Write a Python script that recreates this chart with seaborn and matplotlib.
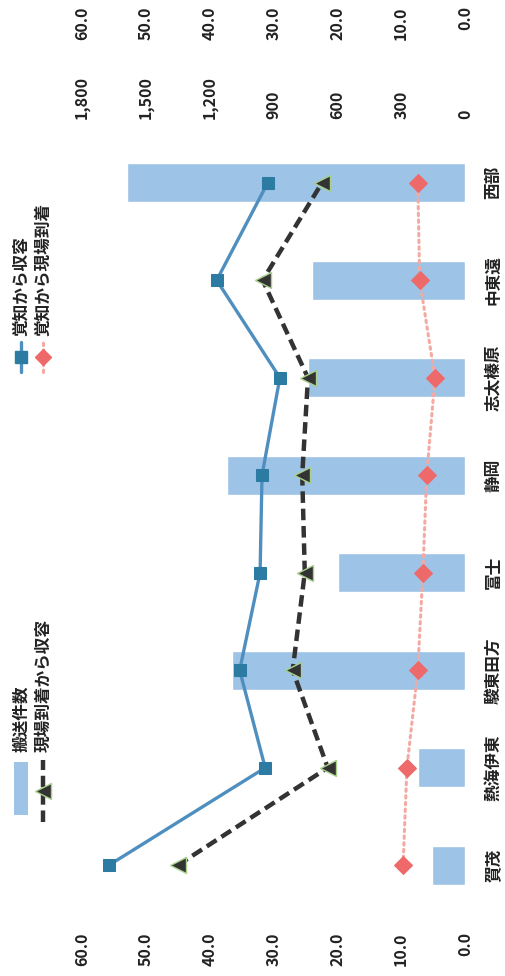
import numpy as np
import pandas as pd
import matplotlib
matplotlib.use("Agg")
import matplotlib.pyplot as plt
import seaborn as sns
from matplotlib.lines import Line2D
from matplotlib.patches import Rectangle

# ---------------- data ----------------
categories = ['賀茂', '熱海伊東', '駿東田方', '富士', '静岡', '志太榛原', '中東遠', '西部']
transport_counts = [155, 221, 1095, 597, 1118, 738, 719, 1588]          # 搬送件数
kakuchi_shuyo = [55.8, 31.3, 35.3, 32.1, 31.8, 29.0, 38.9, 30.9]        # 覚知から収容
genba_shuyo = [45.0, 21.5, 27.0, 25.1, 25.5, 24.6, 31.7, 22.4]          # 現場到着から収容
kakuchi_genba = [9.7, 9.1, 7.4, 6.6, 6.0, 4.7, 7.1, 7.4]                # 覚知から現場到着

line_ticks = [0, 10, 20, 30, 40, 50, 60]
line_tick_labels = ['0.0', '10.0', '20.0', '30.0', '40.0', '50.0', '60.0']
bar_ticks = [0, 300, 600, 900, 1200, 1500, 1800]
bar_tick_labels = ['0', '300', '600', '900', '1,200', '1,500', '1,800']

label_bar = '搬送件数'
label_ks = '覚知から収容'
label_gs = '現場到着から収容'
label_kg = '覚知から現場到着'

# ---------------- style ----------------
sns.set_theme(style='white')
plt.rcParams['font.family'] = ['Noto Sans CJK JP', 'DejaVu Sans']
plt.rcParams['font.weight'] = 'bold'

BAR_C = '#9DC3E6'
KS_LINE = '#4F8FBF'
KS_MARK = '#2B7BA3'
GS_LINE = '#333333'
GS_EDGE = '#A9D18E'
KG_LINE = '#F4A9A3'
KG_MARK = '#EE6A6A'
TXT = '#222222'

W, H = 505, 976
fig = plt.figure(figsize=(W / 100, H / 100), dpi=100)
fig.patch.set_facecolor('white')


def fx(px):
    return px / W


def fy(py):
    return 1 - py / H


left, right, top, bottom = 82, 465, 134, 914
ax_bar = fig.add_axes([fx(left), fy(bottom), (right - left) / W, (bottom - top) / H])

df = pd.DataFrame({'cat': categories, 'count': transport_counts})
sns.barplot(data=df, y='cat', x='count', order=categories, orient='h',
            color=BAR_C, saturation=1, width=0.4, ax=ax_bar, zorder=1)

ax_line = ax_bar.twiny()
pos = np.arange(len(categories))

sns.lineplot(x=kakuchi_genba, y=pos, orient='y', sort=False, ax=ax_line,
             color=KG_LINE, linewidth=2.2, linestyle=(0, (0.8, 1.4)),
             dash_capstyle='round', marker='D', markersize=9,
             markerfacecolor=KG_MARK, markeredgecolor=KG_MARK, zorder=3)
sns.lineplot(x=genba_shuyo, y=pos, orient='y', sort=False, ax=ax_line,
             color=GS_LINE, linewidth=3.2, linestyle=(0, (2.6, 1.3)),
             marker='<', markersize=11, markerfacecolor=GS_LINE,
             markeredgecolor=GS_EDGE, markeredgewidth=1.0, zorder=4)
sns.lineplot(x=kakuchi_shuyo, y=pos, orient='y', sort=False, ax=ax_line,
             color=KS_LINE, linewidth=2.4, marker='s', markersize=9,
             markerfacecolor=KS_MARK, markeredgecolor=KS_MARK, zorder=5)

# axes limits (rotated orientation)
ax_bar.set_xlim(1800, 0)
ax_line.set_xlim(60, 0)
ax_bar.set_ylim(-0.5, len(categories) - 0.5)
ax_line.set_ylim(-0.5, len(categories) - 0.5)

for a in (ax_bar, ax_line):
    for s in a.spines.values():
        s.set_visible(False)
    a.grid(False)
    a.set_xlabel('')
    a.set_ylabel('')
ax_bar.patch.set_alpha(0)
ax_line.patch.set_alpha(0)

FS = 11.5

# category labels (right side of picture)
ax_bar.yaxis.tick_right()
ax_bar.set_yticks(pos)
ax_bar.set_yticklabels(categories)
ax_bar.tick_params(axis='y', length=0, pad=14, labelsize=12, labelcolor=TXT)
plt.setp(ax_bar.get_yticklabels(), rotation=90, ha='left', va='center', fontweight='bold')

# bar axis labels (top, near)
ax_bar.xaxis.tick_top()
ax_bar.set_xticks(bar_ticks)
ax_bar.set_xticklabels(bar_tick_labels)
ax_bar.tick_params(axis='x', length=0, pad=11, labelsize=FS, labelcolor=TXT)
plt.setp(ax_bar.get_xticklabels(), rotation=90, ha='center', va='bottom', fontweight='bold')

# line axis labels (bottom)
ax_line.xaxis.tick_bottom()
ax_line.set_xticks(line_ticks)
ax_line.set_xticklabels(line_tick_labels)
ax_line.tick_params(axis='x', length=0, pad=13, labelsize=FS, labelcolor=TXT)
plt.setp(ax_line.get_xticklabels(), rotation=90, ha='center', va='top', fontweight='bold')
ax_line.tick_params(axis='y', left=False, right=False, labelleft=False, labelright=False)

# second line axis labels (top, far)
sec = ax_line.secondary_xaxis('top')
sec.set_xticks(line_ticks)
sec.set_xticklabels(line_tick_labels)
sec.tick_params(axis='x', length=0, pad=92, labelsize=FS, labelcolor=TXT)
plt.setp(sec.get_xticklabels(), rotation=90, ha='center', va='top', fontweight='bold')
for s in sec.spines.values():
    s.set_visible(False)

# ---------------- legend (rotated, drawn manually) ----------------
LFS = 12
tf = fig.transFigure
# 搬送件数
fig.add_artist(Rectangle((fx(14), fy(815)), fx(28) - fx(14), fy(762) - fy(815),
                         transform=tf, facecolor=BAR_C, edgecolor='none'))
fig.text(fx(21), fy(752), label_bar, rotation=90, ha='center', va='bottom',
         fontsize=LFS, fontweight='bold', color=TXT)
# 現場到着から収容
fig.add_artist(Line2D([fx(43), fx(43)], [fy(822), fy(760)], transform=tf,
                      color=GS_LINE, linewidth=3.2, linestyle=(0, (2.6, 1.3))))
fig.add_artist(Line2D([fx(43)], [fy(791)], transform=tf, marker='<', markersize=11,
                      markerfacecolor=GS_LINE, markeredgecolor=GS_EDGE, linestyle='none'))
fig.text(fx(43), fy(752), label_gs, rotation=90, ha='center', va='bottom',
         fontsize=LFS, fontweight='bold', color=TXT)
# 覚知から収容
fig.add_artist(Line2D([fx(21), fx(21)], [fy(372), fy(342)], transform=tf,
                      color=KS_LINE, linewidth=2.4))
fig.add_artist(Line2D([fx(21)], [fy(357)], transform=tf, marker='s', markersize=8,
                      markerfacecolor=KS_MARK, markeredgecolor=KS_MARK, linestyle='none'))
fig.text(fx(21), fy(336), label_ks, rotation=90, ha='center', va='bottom',
         fontsize=LFS, fontweight='bold', color=TXT)
# 覚知から現場到着
fig.add_artist(Line2D([fx(43), fx(43)], [fy(372), fy(342)], transform=tf,
                      color=KG_LINE, linewidth=2.2, linestyle=(0, (0.8, 1.4)),
                      dash_capstyle='round'))
fig.add_artist(Line2D([fx(43)], [fy(357)], transform=tf, marker='D', markersize=8,
                      markerfacecolor=KG_MARK, markeredgecolor=KG_MARK, linestyle='none'))
fig.text(fx(43), fy(336), label_kg, rotation=90, ha='center', va='bottom',
         fontsize=LFS, fontweight='bold', color=TXT)

fig.savefig('out.png', dpi=100, facecolor='white')
